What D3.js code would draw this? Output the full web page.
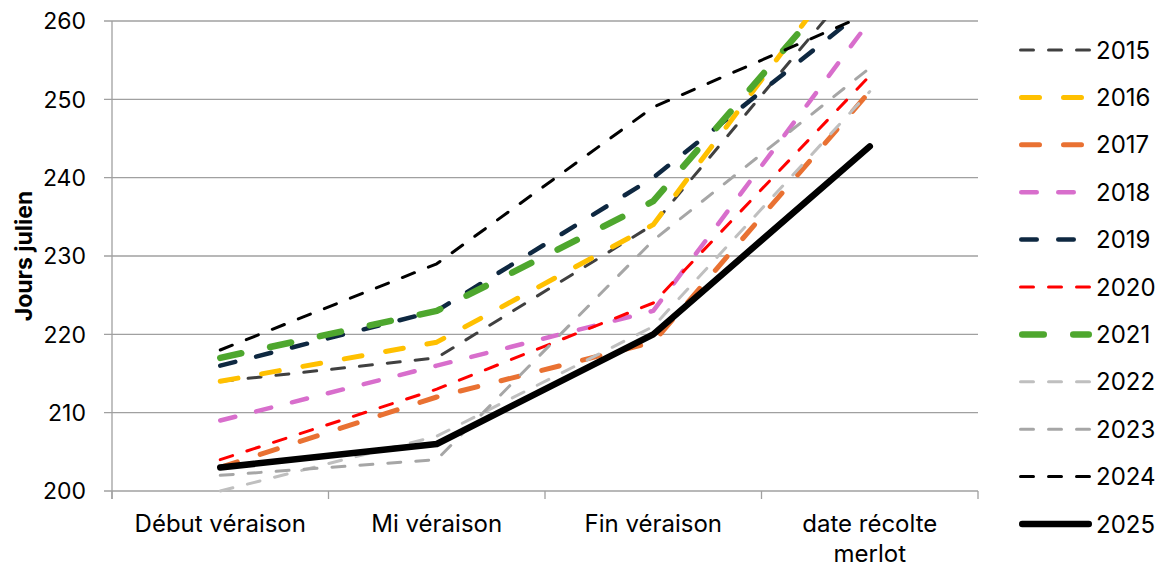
<!DOCTYPE html>
<html>
<head>
<meta charset="utf-8">
<script src="https://cdn.jsdelivr.net/npm/d3@7"></script>
<style>
  html, body { margin: 0; padding: 0; background: #ffffff; }
  svg { display: block; font-family: Inter, "Open Sans", "Liberation Sans", sans-serif; }
</style>
</head>
<body>
<svg id="chart" width="1159" height="569"></svg>
<script>
// ---- data ----
const categories = ["Début véraison", "Mi véraison", "Fin véraison", "date récolte merlot"];
const years = ["2015", "2016", "2017", "2018", "2019", "2020", "2021", "2022", "2023", "2024", "2025"];
const v2015 = [214, 217, 234, 267];
const v2016 = [214, 219, 234, 271];
const v2017 = [203, 212, 219, 251];
const v2018 = [209, 216, 223, 260];
const v2019 = [216, 223, 240, 262];
const v2020 = [204, 213, 224, 253];
const v2021 = [217, 223, 237, 269];
const v2022 = [200, 207, 221, 251];
const v2023 = [202, 204, 232, 254];
const v2024 = [218, 229, 249, 261];
const v2025 = [203, 206, 220, 244];
const yTicks = [200, 210, 220, 230, 240, 250, 260];
const yTitle = "Jours julien";

const seriesValues = [v2015, v2016, v2017, v2018, v2019, v2020, v2021, v2022, v2023, v2024, v2025];

// ---- styles ----
const styles = [
  {color: "#404040", width: 3,   dash: "13 15"},
  {color: "#FFC000", width: 5,   dash: "18 24"},
  {color: "#E97132", width: 5,   dash: "18 24"},
  {color: "#D86ECC", width: 4.5, dash: "15.5 21.5"},
  {color: "#0E2841", width: 4.5, dash: "15.5 21.5"},
  {color: "#FF0000", width: 3,   dash: "13 15"},
  {color: "#4EA72E", width: 6.5, dash: "21.5 29.5"},
  {color: "#BFBFBF", width: 3,   dash: "13 15"},
  {color: "#A6A6A6", width: 3,   dash: "13 15"},
  {color: "#000000", width: 3,   dash: "13 15"},
  {color: "#000000", width: 6.5, dash: null}
];

const svg = d3.select("#chart");
const plot = {left: 112, right: 978, top: 21, bottom: 491};

const x = d3.scaleBand().domain(categories).range([plot.left, plot.right]);
const y = d3.scaleLinear().domain([200, 260]).range([plot.bottom, plot.top]);

// gridlines
svg.append("g").selectAll("line").data(yTicks).join("line")
  .attr("x1", plot.left - 8).attr("x2", plot.right)
  .attr("y1", d => y(d)).attr("y2", d => y(d))
  .attr("stroke", "#a0a0a0").attr("stroke-width", 1.3);

// y axis line
svg.append("line")
  .attr("x1", plot.left).attr("x2", plot.left)
  .attr("y1", plot.top).attr("y2", plot.bottom + 8)
  .attr("stroke", "#a0a0a0").attr("stroke-width", 1.3);

// x axis ticks at category boundaries
const bounds = categories.map(c => x(c)).concat([x(categories[categories.length - 1]) + x.bandwidth()]);
svg.append("g").selectAll("line").data(bounds).join("line")
  .attr("x1", d => d).attr("x2", d => d)
  .attr("y1", plot.bottom).attr("y2", plot.bottom + 8)
  .attr("stroke", "#a0a0a0").attr("stroke-width", 1.3);

// y tick labels
svg.append("g").selectAll("text").data(yTicks).join("text")
  .attr("x", 86).attr("y", d => y(d))
  .attr("dy", "0.36em")
  .attr("text-anchor", "end")
  .attr("font-size", 23)
  .attr("fill", "#000")
  .text(d => d);

// y title
svg.append("text")
  .attr("transform", `translate(31.5, ${(plot.top + plot.bottom) / 2}) rotate(-90)`)
  .attr("text-anchor", "middle")
  .attr("font-size", 23).attr("font-weight", "bold")
  .attr("fill", "#000")
  .text(yTitle);

// x labels (wrapped)
const xLabelLines = {"date récolte merlot": ["date récolte", "merlot"]};
const xl = svg.append("g").selectAll("text").data(categories).join("text")
  .attr("x", d => x(d) + x.bandwidth() / 2)
  .attr("y", 532)
  .attr("text-anchor", "middle")
  .attr("font-size", 24)
  .attr("fill", "#000");
xl.each(function(d) {
  const lines = xLabelLines[d] || [d];
  d3.select(this).selectAll("tspan").data(lines).join("tspan")
    .attr("x", x(d) + x.bandwidth() / 2)
    .attr("dy", (l, i) => i === 0 ? 0 : 30)
    .text(l => l);
});

// clip
svg.append("clipPath").attr("id", "plotclip").append("rect")
  .attr("x", plot.left).attr("y", plot.top - 1)
  .attr("width", plot.right - plot.left).attr("height", plot.bottom - plot.top + 10);

const line = d3.line()
  .x((d, i) => x(categories[i]) + x.bandwidth() / 2)
  .y(d => y(d));

const lines = svg.append("g").attr("clip-path", "url(#plotclip)");
seriesValues.forEach((vals, i) => {
  const s = styles[i];
  lines.append("path")
    .attr("d", line(vals))
    .attr("fill", "none")
    .attr("stroke", s.color)
    .attr("stroke-width", s.width)
    .attr("stroke-linecap", "round")
    .attr("stroke-linejoin", "round")
    .attr("stroke-dasharray", s.dash);
});

// legend
const legend = svg.append("g");
years.forEach((yr, i) => {
  const s = styles[i];
  const ly = 50 + i * 47.4;
  legend.append("line")
    .attr("x1", 1019 + s.width / 2).attr("x2", 1092 - s.width / 2)
    .attr("y1", ly).attr("y2", ly)
    .attr("stroke", s.color).attr("stroke-width", s.width)
    .attr("stroke-linecap", "round")
    .attr("stroke-dasharray", s.dash);
  legend.append("text")
    .attr("x", 1096).attr("y", ly)
    .attr("dy", "0.36em")
    .attr("font-size", 24)
    .attr("fill", "#000")
    .text(yr);
});
</script>
</body>
</html>
